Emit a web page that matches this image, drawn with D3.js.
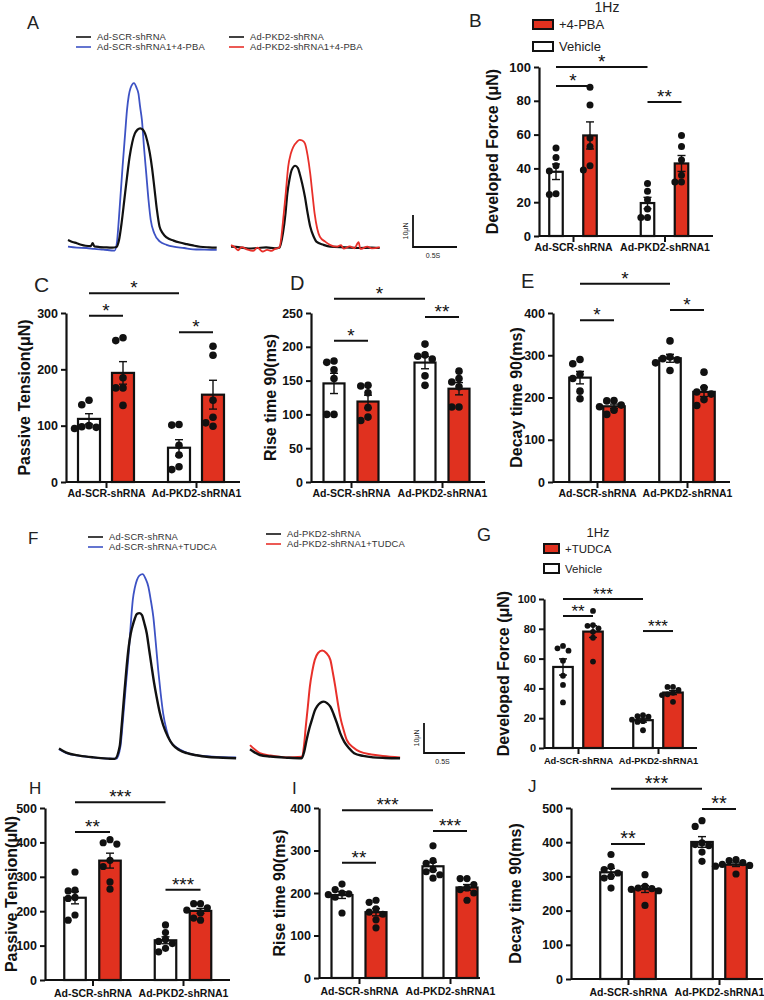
<!DOCTYPE html>
<html>
<head>
<meta charset="UTF-8">
<script src="https://d3js.org/d3.v7.min.js"></script>
<style>
    body { margin: 0; background: #fff; }
    svg text { font-family: "Liberation Sans", Arial, sans-serif; }
</style>
</head>
<body>
<svg id="canvas" width="764" height="1000"></svg>
<script>
    var cats = ["Ad-SCR-shRNA", "Ad-PKD2-shRNA1"];
    var RED = "#e0311f";

    // ---- force traces, [time (s), force (uN)] ----
    var aScrVeh = [[0,2.5],[0.05,1.9],[0.1,1.5],[0.15,1.0],[0.2,0.7],[0.26,0.6],[0.28,1.5],[0.3,0.5],[0.36,0.3],[0.42,0.2],[0.5,0.1],[0.55,0.3],[0.58,2.5],[0.61,8],[0.64,15],[0.67,22],[0.70,28.5],[0.73,33],[0.76,35.8],[0.79,37],[0.82,37.4],[0.85,37],[0.875,35.8],[0.90,33.5],[0.93,29.6],[0.955,25],[0.98,19.2],[1.01,12],[1.04,6.7],[1.08,4.5],[1.12,3.3],[1.2,2.3],[1.27,1.7],[1.35,1.2],[1.42,0.8],[1.5,0.4],[1.6,0.2],[1.69,0.1]];
    var aScrPba = [[0,0.4],[0.1,0.1],[0.21,0],[0.3,-0.3],[0.4,-0.5],[0.53,-0.8],[0.555,1.5],[0.58,9.8],[0.62,25.4],[0.65,36],[0.67,43],[0.69,47.5],[0.71,49.9],[0.75,51.5],[0.78,50],[0.80,48.3],[0.82,44],[0.84,40],[0.865,31],[0.89,23],[0.915,15],[0.94,8.8],[0.98,4.6],[1.045,2],[1.12,1],[1.2,0.4],[1.32,0],[1.42,-0.4],[1.55,-0.5],[1.69,-0.6]];
    var aPkdVeh = [[0,0.4],[0.1,0.2],[0.2,-0.2],[0.3,0],[0.4,0.2],[0.5,-0.1],[0.55,0.1],[0.59,4.6],[0.62,11],[0.64,17],[0.665,21.5],[0.69,24.4],[0.73,25.7],[0.76,25],[0.78,23.3],[0.81,20],[0.84,16],[0.87,11],[0.90,6.7],[0.94,3.5],[0.97,2],[1.05,1],[1.13,0.4],[1.3,0.2],[1.45,0],[1.6,0.1],[1.69,0]];
    var aPkdPba = [[0,0.9],[0.04,0.3],[0.08,-0.7],[0.12,0.3],[0.18,-0.4],[0.25,-0.9],[0.3,0.1],[0.36,-1.1],[0.41,-0.6],[0.46,-0.9],[0.5,-0.3],[0.55,0.2],[0.6,10.8],[0.625,18],[0.65,25.4],[0.68,29.5],[0.71,31.7],[0.75,33.2],[0.78,33.8],[0.81,33.6],[0.84,32.7],[0.87,29],[0.90,23.3],[0.925,17],[0.95,10.8],[0.98,6],[1.01,3.5],[1.07,2],[1.13,0.9],[1.2,0.4],[1.25,0.9],[1.28,-0.2],[1.35,0.5],[1.4,-0.1],[1.45,1.8],[1.47,-0.3],[1.55,0.4],[1.6,-0.1],[1.69,0.3]];

    var fScrVeh = [[0,3.2],[0.09,1.8],[0.25,0.8],[0.42,0.2],[0.6,-0.2],[0.68,-0.3],[0.74,3.8],[0.765,11],[0.79,19.3],[0.82,29],[0.85,37],[0.875,41.5],[0.90,44.3],[0.925,46.5],[0.95,48],[0.98,48.3],[1.01,47.7],[1.04,45],[1.07,41.6],[1.10,36],[1.13,30.4],[1.16,25],[1.19,20.4],[1.23,15],[1.27,11],[1.33,7],[1.39,4.3],[1.47,2.6],[1.56,1.6],[1.68,0.9],[1.8,0.4],[2.0,0.1],[2.16,-0.1]];
    var fScrTud = [[0,2.9],[0.09,1.6],[0.25,0.7],[0.42,0.2],[0.6,-0.2],[0.7,-0.2],[0.75,4],[0.78,12.7],[0.815,24],[0.85,34.9],[0.875,44.5],[0.90,52.7],[0.925,56.8],[0.95,59.3],[0.98,60.8],[1.02,61.3],[1.055,59.8],[1.09,57.1],[1.12,52.5],[1.15,47.1],[1.18,38.5],[1.21,29.3],[1.24,21.5],[1.27,14.9],[1.31,9.5],[1.35,6],[1.42,3.8],[1.48,2.7],[1.6,1.4],[1.8,0.6],[2.0,0.3],[2.16,0.2]];
    var fPkdVeh = [[0,2.9],[0.06,1.8],[0.12,1],[0.25,0.5],[0.45,0.1],[0.63,-0.1],[0.66,2],[0.69,6],[0.725,10],[0.76,13.2],[0.79,15.8],[0.82,17.3],[0.86,18.4],[0.90,18.8],[0.94,18.3],[0.98,17.1],[1.02,14.6],[1.06,11.6],[1.1,8.3],[1.15,5.4],[1.21,3.2],[1.27,1.6],[1.38,0.7],[1.5,0.2],[1.65,0],[1.83,-0.1]];
    var fPkdTud = [[0,4.3],[0.06,2.8],[0.12,1.6],[0.25,0.8],[0.45,0.2],[0.63,0.4],[0.66,4.5],[0.68,10.4],[0.705,17],[0.73,23.8],[0.76,29],[0.79,32.7],[0.83,35],[0.88,35.8],[0.93,35],[0.98,32.7],[1.01,28.5],[1.04,23.8],[1.07,18.5],[1.10,13.8],[1.14,9.5],[1.18,6],[1.26,3.5],[1.34,2.1],[1.48,1.2],[1.62,0.7],[1.83,0.2]];

    // ---- bar panels: individual points [SCR, PKD2] ----
    var bVehicle = [[52, 46.5, 41.5, 38.5, 25, 24.5], [31, 26.5, 21.5, 16, 11, 11]];
    var bDrug    = [[88, 77.5, 58, 53, 41.5, 39], [59.5, 53, 45, 36, 32, 32]];
    var cVehicle = [[145, 137, 100, 98, 97, 95], [102, 101, 65, 48, 27, 22]];
    var cDrug    = [[256, 251, 185, 167, 167, 136], [241, 225, 145, 115, 105, 99]];
    var dVehicle = [[179, 177, 166, 153, 100, 100], [204, 188, 186, 182, 157, 143]];
    var dDrug    = [[143, 142, 132, 110, 96, 91], [164, 153, 148, 141, 111, 111]];
    var eVehicle = [[290, 280, 255, 245, 215, 197], [334, 296, 292, 289, 282, 264]];
    var eDrug    = [[193, 192, 182, 178, 170, 160], [260, 223, 213, 208, 195, 181]];
    var gVehicle = [[68.5, 66.9, 65.3, 58.6, 48.5, 42.3, 30.6], [22, 21.3, 21, 19, 18, 17.5, 11.9]];
    var gDrug    = [[92, 82.5, 82, 80.3, 78, 74, 58], [41, 41, 39, 37, 36, 35.5, 31]];
    var hVehicle = [[314, 261, 259, 240, 237, 189, 174], [160, 138, 118, 112, 106, 92, 82]];
    var hDrug    = [[408, 399, 395, 348, 330, 285, 264], [222, 222, 210, 203, 195, 180, 174]];
    var iVehicle = [[221, 208, 200, 198, 196, 190, 153], [311, 276, 270, 255, 250, 243, 235]];
    var iDrug    = [[183, 178, 163, 155, 150, 137, 118], [234, 234, 220, 212, 208, 200, 183]];
    var jVehicle = [[364, 329, 320, 310, 300, 295, 266], [463, 446, 398, 393, 390, 371, 344]];
    var jDrug    = [[305, 271, 266, 264, 262, 258, 215], [349, 346, 340, 335, 332, 330, 307]];

    var bTicks = [0, 20, 40, 60, 80, 100];
    var cTicks = [0, 100, 200, 300];
    var dTicks = [0, 50, 100, 150, 200, 250];
    var eTicks = [0, 100, 200, 300, 400];
    var gTicks = [0, 20, 40, 60, 80, 100];
    var hTicks = [0, 100, 200, 300, 400, 500];
    var iTicks = [0, 100, 200, 300, 400];
    var jTicks = [0, 100, 200, 300, 400, 500];

    // significance: [bar from, bar to, stars, level] ; bars 0 SCR veh, 1 SCR drug, 2 PKD2 veh, 3 PKD2 drug
    var bSig = [[0, 2, "*", 100], [0, 1, "*", 88.8], [2, 3, "**", 79.3]];
    var cSig = [[0, 2, "*", 335], [0, 1, "*", 295], [2, 3, "*", 266]];
    var dSig = [[0, 2, "*", 271], [0, 1, "*", 209], [2, 3, "**", 244]];
    var eSig = [[0, 2, "*", 469], [0, 1, "*", 383], [2, 3, "*", 407]];
    var gSig = [[0, 2, "***", 100], [0, 1, "**", 88.6], [2, 3, "***", 78.5]];
    var hSig = [[0, 2, "***", 517], [0, 1, "**", 430], [2, 3, "***", 262]];
    var iSig = [[0, 2, "***", 395], [0, 1, "**", 271], [2, 3, "***", 346]];
    var jSig = [[0, 2, "***", 556], [0, 1, "**", 395], [2, 3, "**", 497]];

    var svg = d3.select("#canvas");

    function letter(t, x, y, size) {
        svg.append("text").attr("x", x).attr("y", y).attr("font-size", size).attr("fill", "#222").text(t);
    }

    // ---------- trace panels ----------
    function drawTraces(traces, legend, bar) {
        var line = d3.line().curve(d3.curveMonotoneX);
        traces.forEach(function (tr) {
            var x = d3.scaleLinear().domain([0, 1]).range([tr.x0, tr.x0 + tr.pxPerS]);
            var y = d3.scaleLinear().domain([0, 10]).range([tr.base, tr.base - tr.pxPer10]);
            line.x(function (d) { return x(d[0]); }).y(function (d) { return y(d[1]); });
            svg.append("path").attr("d", line(tr.data)).attr("fill", "none")
                .attr("stroke", tr.color).attr("stroke-width", tr.w).attr("stroke-linejoin", "round");
        });
        legend.forEach(function (l) {
            svg.append("line").attr("x1", l.x).attr("x2", l.x + 15).attr("y1", l.y).attr("y2", l.y)
                .attr("stroke", l.color).attr("stroke-width", 1.6);
            svg.append("text").attr("x", l.x + 21).attr("y", l.y + 3.3).attr("font-size", 9.4)
                .attr("fill", "#333").attr("letter-spacing", 0.15).text(l.text);
        });
        // scale bar 10 uN / 0.5 s
        var sx = d3.scaleLinear().domain([0, 0.5]).range([bar.x, bar.x + bar.pxPerS / 2]);
        var sy = d3.scaleLinear().domain([0, 10]).range([bar.y, bar.y - bar.pxPer10]);
        svg.append("path").attr("fill", "none").attr("stroke", "#111").attr("stroke-width", 1.8)
            .attr("d", "M" + sx(0) + "," + sy(10) + "V" + sy(0) + "H" + sx(0.5));
        svg.append("text").attr("font-size", 7).attr("fill", "#222").attr("text-anchor", "middle")
            .attr("transform", "translate(" + (sx(0) - 5) + "," + sy(5) + ") rotate(-90)").text("10μN");
        svg.append("text").attr("font-size", 7).attr("fill", "#222").attr("text-anchor", "middle")
            .attr("x", (sx(0) + sx(0.5)) / 2 - 2).attr("y", bar.y + 11).text("0.5S");
    }

    letter("A", 27, 29, 18);
    drawTraces([
        { data: aScrPba, color: "#3d52c4", w: 1.8, x0: 68, pxPerS: 88, base: 248, pxPer10: 32 },
        { data: aScrVeh, color: "#111", w: 2.2, x0: 68, pxPerS: 88, base: 248, pxPer10: 32 },
        { data: aPkdVeh, color: "#111", w: 2.2, x0: 231, pxPerS: 88, base: 248, pxPer10: 32 },
        { data: aPkdPba, color: "#e8302a", w: 1.8, x0: 231, pxPerS: 88, base: 248, pxPer10: 32 }
    ], [
        { x: 76, y: 37, color: "#111", text: "Ad-SCR-shRNA" },
        { x: 76, y: 47, color: "#3d52c4", text: "Ad-SCR-shRNA1+4-PBA" },
        { x: 229, y: 37, color: "#111", text: "Ad-PKD2-shRNA" },
        { x: 229, y: 47, color: "#e8302a", text: "Ad-PKD2-shRNA1+4-PBA" }
    ], { x: 413, y: 247, pxPerS: 88, pxPer10: 32 });

    letter("F", 28, 544, 17);
    drawTraces([
        { data: fScrTud, color: "#3d52c4", w: 1.8, x0: 59, pxPerS: 82, base: 758, pxPer10: 30 },
        { data: fScrVeh, color: "#111", w: 2.4, x0: 59, pxPerS: 82, base: 758, pxPer10: 30 },
        { data: fPkdTud, color: "#e8302a", w: 2.0, x0: 250, pxPerS: 82, base: 758, pxPer10: 30 },
        { data: fPkdVeh, color: "#111", w: 2.4, x0: 250, pxPerS: 82, base: 758, pxPer10: 30 }
    ], [
        { x: 88, y: 537, color: "#111", text: "Ad-SCR-shRNA" },
        { x: 88, y: 547, color: "#3d52c4", text: "Ad-SCR-shRNA+TUDCA" },
        { x: 266, y: 534, color: "#111", text: "Ad-PKD2-shRNA" },
        { x: 266, y: 544, color: "#e8302a", text: "Ad-PKD2-shRNA1+TUDCA" }
    ], { x: 424, y: 753, pxPerS: 82, pxPer10: 30 });

    // ---------- bar panels ----------
    function placeDots(vals, y, r) {
        var placed = [];
        vals.forEach(function (v) {
            var py = y(v), offs = [0, -1, 1, -2, 2, -3, 3];
            for (var k = 0; k < offs.length; k++) {
                var px = offs[k] * r * 1.9;
                var ok = placed.every(function (p) { return Math.hypot(p.x - px, p.y - py) >= r * 1.9; });
                if (ok) { placed.push({ x: px, y: py }); break; }
            }
        });
        return placed;
    }

    function drawBars(p) {
        var g = svg.append("g");
        var yMax = p.ticks[p.ticks.length - 1];
        var y = d3.scaleLinear().domain([0, yMax]).range([p.yBot, p.yTop]);
        var xc = d3.scalePoint().domain(cats).range(p.cats);
        var xs = d3.scalePoint().domain(["veh", "drug"]).range([-p.off, p.off]);

        var groups = [];
        cats.forEach(function (c, ci) {
            ["veh", "drug"].forEach(function (k) {
                var vals = (k == "veh" ? p.veh : p.drug)[ci];
                var m = d3.mean(vals), sem = d3.deviation(vals) / Math.sqrt(vals.length);
                groups.push({ cx: xc(c) + xs(k), k: k, vals: vals, mean: m, sem: sem });
            });
        });

        g.selectAll(".bar").data(groups).enter().append("rect")
            .attr("x", function (d) { return d.cx - p.bw / 2; })
            .attr("y", function (d) { return y(d.mean); })
            .attr("width", p.bw)
            .attr("height", function (d) { return p.yBot - y(d.mean); })
            .attr("fill", function (d) { return d.k == "veh" ? "#fff" : RED; })
            .attr("stroke", "#111").attr("stroke-width", 2.2);

        groups.forEach(function (d) {
            var e = g.append("g").attr("stroke", "#111").attr("stroke-width", 1.4);
            e.append("line").attr("x1", d.cx).attr("x2", d.cx).attr("y1", y(d.mean - d.sem)).attr("y2", y(d.mean + d.sem));
            [d.mean - d.sem, d.mean + d.sem].forEach(function (v) {
                e.append("line").attr("x1", d.cx - 4).attr("x2", d.cx + 4).attr("y1", y(v)).attr("y2", y(v));
            });
            placeDots(d.vals, y, p.r).forEach(function (pt) {
                g.append("circle").attr("cx", d.cx + pt.x).attr("cy", pt.y).attr("r", p.r).attr("fill", "#111");
            });
        });

        // axes
        var ya = g.append("g").attr("transform", "translate(" + p.ax + ",0)")
            .call(d3.axisLeft(y).tickValues(p.ticks).tickSize(5).tickSizeOuter(0).tickPadding(3));
        ya.select(".domain").attr("stroke-width", 2.2).attr("stroke", "#111");
        ya.selectAll(".tick line").attr("stroke-width", 2).attr("stroke", "#111");
        ya.selectAll(".tick text").attr("font-size", p.tickFont).attr("font-weight", "bold").attr("fill", "#111")
            .attr("font-family", "Liberation Sans, Arial, sans-serif");

        g.append("line").attr("x1", p.ax).attr("x2", p.axEnd).attr("y1", p.yBot).attr("y2", p.yBot)
            .attr("stroke", "#111").attr("stroke-width", 2.2);
        var xa = g.append("g").attr("transform", "translate(0," + p.yBot + ")")
            .call(d3.axisBottom(xc).tickSize(6).tickSizeOuter(0).tickPadding(p.catPad));
        xa.select(".domain").remove();
        xa.selectAll(".tick line").attr("stroke-width", 2).attr("stroke", "#111");
        xa.selectAll(".tick text").attr("font-size", p.catFont).attr("font-weight", "bold").attr("fill", "#111")
            .attr("font-family", "Liberation Sans, Arial, sans-serif");

        g.append("text").attr("font-size", 16).attr("font-weight", "bold").attr("fill", "#111")
            .attr("text-anchor", "middle").attr("dominant-baseline", "central")
            .attr("transform", "translate(" + p.labelX + "," + (p.yTop + p.yBot) / 2 + ") rotate(-90)")
            .text(p.label);

        p.sig.forEach(function (s) {
            var x1 = groups[s[0]].cx, x2 = groups[s[1]].cx, ly = y(s[3]);
            g.append("line").attr("x1", x1).attr("x2", x2).attr("y1", ly).attr("y2", ly)
                .attr("stroke", "#111").attr("stroke-width", 2);
            g.append("text").attr("x", (x1 + x2) / 2).attr("y", ly + 1).attr("text-anchor", "middle")
                .attr("font-size", p.starFont).attr("fill", "#111").text(s[2]);
        });
    }

    function legendBox(x, y0, y1, w, h, drugText, fs, hzX, hzY, hzFs) {
        svg.append("text").attr("x", hzX).attr("y", hzY).attr("text-anchor", "middle").attr("font-size", hzFs)
            .attr("fill", "#222").text("1Hz");
        [[y0, RED, drugText], [y1, "#fff", "Vehicle"]].forEach(function (r) {
            svg.append("rect").attr("x", x).attr("y", r[0]).attr("width", w).attr("height", h)
                .attr("fill", r[1]).attr("stroke", "#111").attr("stroke-width", 2);
            svg.append("text").attr("x", x + w + 6).attr("y", r[0] + h).attr("font-size", fs)
                .attr("fill", "#222").text(r[2]);
        });
    }

    letter("B", 469, 27, 19);
    legendBox(533, 20, 42, 20, 9, "+4-PBA", 13, 607, 12, 14);
    drawBars({ veh: bVehicle, drug: bDrug, ticks: bTicks, sig: bSig, label: "Developed Force (μN)",
        ax: 539, axEnd: 713, yTop: 67, yBot: 236, cats: [573, 664.5], off: 17, bw: 13.5, r: 3.5,
        labelX: 492, tickFont: 13, catFont: 10.5, catPad: 2, starFont: 19 });

    letter("C", 34, 292, 21);
    drawBars({ veh: cVehicle, drug: cDrug, ticks: cTicks, sig: cSig, label: "Passive Tension(μN)",
        ax: 66, axEnd: 240, yTop: 313, yBot: 482, cats: [106, 196], off: 17, bw: 22, r: 3.8,
        labelX: 24, tickFont: 12.5, catFont: 10.5, catPad: 2, starFont: 19 });

    letter("D", 290, 290, 20);
    drawBars({ veh: dVehicle, drug: dDrug, ticks: dTicks, sig: dSig, label: "Rise time 90(ms)",
        ax: 311, axEnd: 485, yTop: 313, yBot: 482, cats: [351, 442], off: 17, bw: 21, r: 3.8,
        labelX: 270, tickFont: 12.5, catFont: 10.5, catPad: 2, starFont: 19 });

    letter("E", 521, 288, 20);
    drawBars({ veh: eVehicle, drug: eDrug, ticks: eTicks, sig: eSig, label: "Decay time 90(ms)",
        ax: 553, axEnd: 730, yTop: 313, yBot: 482, cats: [597, 687], off: 17, bw: 21.5, r: 3.8,
        labelX: 516, tickFont: 12.5, catFont: 10.5, catPad: 2, starFont: 19 });

    letter("G", 477, 541, 18);
    legendBox(544, 544, 564, 15, 9, "+TUDCA", 11.5, 598, 537, 13);
    drawBars({ veh: gVehicle, drug: gDrug, ticks: gTicks, sig: gSig, label: "Developed Force (μN)",
        ax: 544, axEnd: 697, yTop: 599, yBot: 748, cats: [578, 658], off: 15, bw: 19.5, r: 2.9,
        labelX: 503, tickFont: 11, catFont: 9.3, catPad: 3, starFont: 17 });

    letter("H", 29, 794, 17);
    drawBars({ veh: hVehicle, drug: hDrug, ticks: hTicks, sig: hSig, label: "Passive Tension(μN)",
        ax: 45, axEnd: 230, yTop: 808, yBot: 980, cats: [92.5, 183], off: 17.5, bw: 21.5, r: 3.6,
        labelX: 11, tickFont: 12.5, catFont: 10.5, catPad: 4, starFont: 19 });

    letter("I", 292, 794, 17);
    drawBars({ veh: iVehicle, drug: iDrug, ticks: iTicks, sig: iSig, label: "Rise time 90(ms)",
        ax: 319, axEnd: 480, yTop: 808, yBot: 978, cats: [359, 450], off: 17, bw: 21, r: 3.6,
        labelX: 279, tickFont: 12.5, catFont: 10.5, catPad: 4, starFont: 19 });

    letter("J", 528, 792, 17);
    drawBars({ veh: jVehicle, drug: jDrug, ticks: jTicks, sig: jSig, label: "Decay time 90(ms)",
        ax: 571, axEnd: 763, yTop: 808, yBot: 979, cats: [628, 719], off: 17, bw: 21.5, r: 3.6,
        labelX: 515, tickFont: 12.5, catFont: 10.5, catPad: 4, starFont: 20 });
</script>
</body>
</html>
